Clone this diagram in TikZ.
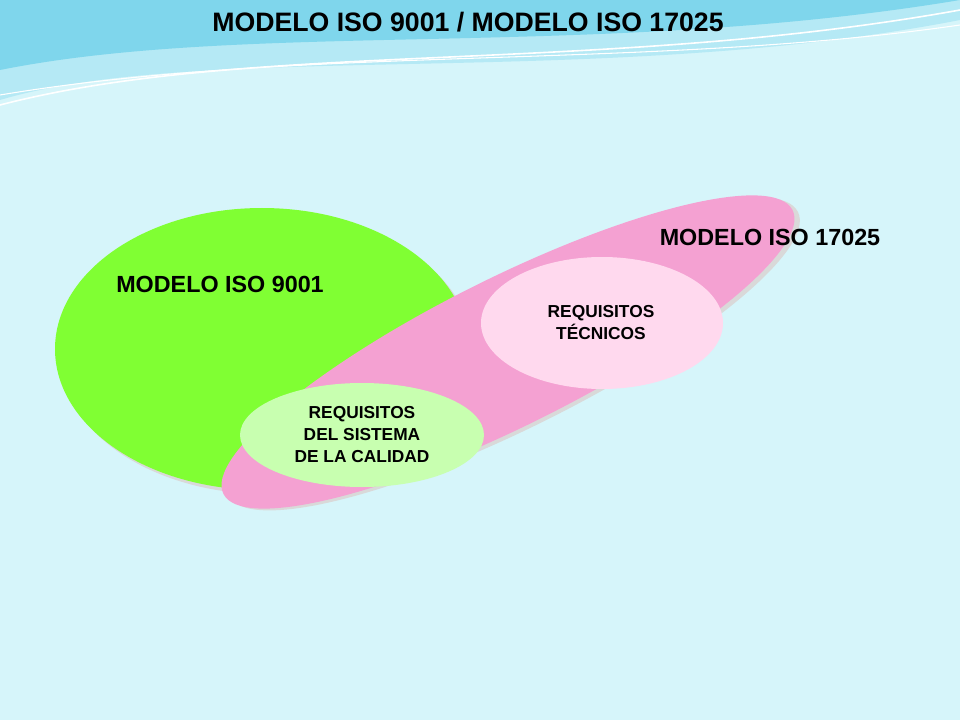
\documentclass[tikz,border=0pt]{standalone}
\usepackage{fontspec}
\setmainfont{Liberation Sans}
\definecolor{bg}{HTML}{D6F5FA}
\definecolor{wave}{HTML}{7FD6EC}
\definecolor{wave2}{HTML}{B5E9F5}
\definecolor{green9}{HTML}{80FF33}
\definecolor{pink7}{HTML}{F4A1D2}
\definecolor{lpink}{HTML}{FFD9EE}
\definecolor{lgreen}{HTML}{C8FFB0}
\tikzset{lbl/.style={font=\bfseries, text=black},
 small/.style={font=\bfseries\fontsize{13}{16.5}\selectfont, align=center, text=black}}
\begin{document}
\begin{tikzpicture}[x=0.75pt,y=-0.75pt]
\useasboundingbox (0,0) rectangle (960,720);
\fill[bg] (0,0) rectangle (960,720);
\fill[wave2] (0,0) -- (0,100) .. controls (200,40) and (600,90) .. (960,20) -- (960,0) -- cycle;
\fill[wave] (0,0) -- (0,70) .. controls (250,20) and (600,60) .. (960,0) -- cycle;
\draw[white,line width=1.2pt] (0,105) .. controls (250,40) and (600,75) .. (960,10);
\draw[white,line width=0.8pt] (0,95) .. controls (300,45) and (650,70) .. (960,25);
\node[lbl,font=\bfseries\fontsize{20}{24}\selectfont] (title) at (468,22) {MODELO ISO 9001 / MODELO ISO 17025};
\fill[gray!30] (266,353) ellipse [x radius=207, y radius=141];
\fill[green9] (262,349) ellipse [x radius=207, y radius=141];
\begin{scope}[rotate around={26.5:(508,352)}]
\fill[gray!30] (512,356) ellipse [x radius=318, y radius=74];
\fill[pink7] (508,352) ellipse [x radius=318, y radius=74];
\end{scope}
\fill[lpink] (602,323) ellipse [x radius=121, y radius=66];
\fill[lgreen] (362,435) ellipse [x radius=122, y radius=52];
\node[lbl,font=\bfseries\fontsize{17.5}{20}\selectfont] (iso9) at (220,284) {MODELO ISO 9001};
\node[lbl,font=\bfseries\fontsize{17.5}{20}\selectfont] (iso17) at (770,237) {MODELO ISO 17025};
\node[small] (tec) at (601,323) {REQUISITOS\\TÉCNICOS};
\node[small] (cal) at (362,435) {REQUISITOS\\DEL SISTEMA\\DE LA CALIDAD};
\end{tikzpicture}
\end{document}
